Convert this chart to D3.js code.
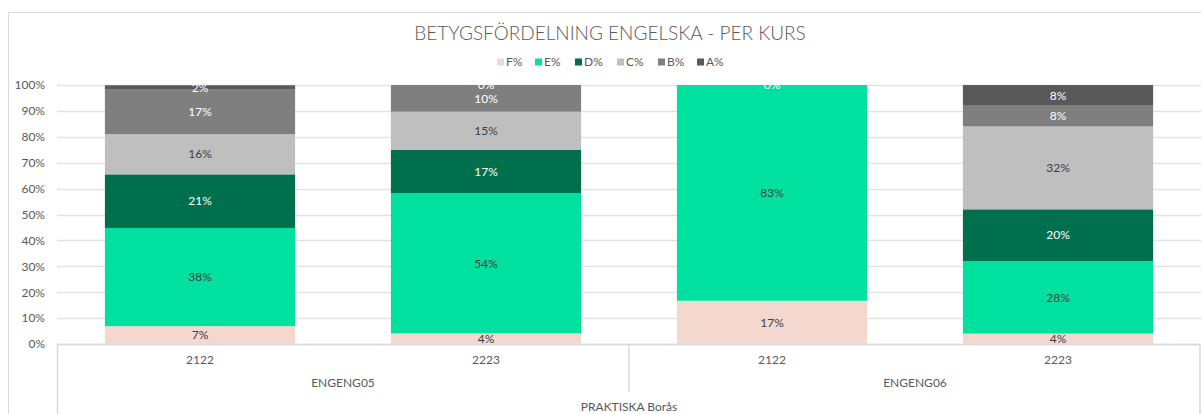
<!DOCTYPE html>
<html>
<head>
<meta charset="utf-8">
<script src="https://cdn.jsdelivr.net/npm/d3@7"></script>
<style>
  body { margin: 0; background: #fff; }
  text { font-family: Lato, "Open Sans", sans-serif; fill: #595959; }
</style>
</head>
<body>
<div class="d3-container"></div>
<script>
const w = 1201
const h = 414

// data
const courses = ['ENGENG05', 'ENGENG05', 'ENGENG06', 'ENGENG06']
const years = ['2122', '2223', '2122', '2223']
const school = 'PRAKTISKA Borås'
const grades = ['F%', 'E%', 'D%', 'C%', 'B%', 'A%']
const fVals = [6.9, 4.1, 16.7, 4]
const eVals = [37.9, 54.1, 83.3, 28]
const dVals = [20.7, 16.7, null, 20]
const cVals = [15.5, 14.8, null, 32]
const bVals = [17.2, 10.3, null, 8]
const aVals = [1.7, 0, 0, 8]
const yTicks = [0, 10, 20, 30, 40, 50, 60, 70, 80, 90, 100]

const colors = ['#f4d8d0', '#00e09e', '#00704c', '#bfbfbf', '#7f7f7f', '#595959']
const labelColors = ['#404040', '#404040', '#ffffff', '#404040', '#ffffff', '#ffffff']

const series = [fVals, eVals, dVals, cVals, bVals, aVals]
const rows = years.map((y, i) => {
    const r = { key: i }
    grades.forEach((g, j) => { r[g] = series[j][i] })
    return r
})

const m = { left: 57, right: 0, top: 85, bottom: 70 }

const svg = d3.select('.d3-container')
    .append('svg')
    .attr('width', w)
    .attr('height', h)

// chart border
svg.append('rect')
    .attr('x', 8.5).attr('y', 12.5)
    .attr('width', w + 20).attr('height', h + 20)
    .attr('fill', 'none')
    .attr('stroke', '#d9d9d9')

const x = d3.scaleBand()
    .domain(d3.range(years.length))
    .range([m.left, w - m.right])
    .paddingInner(0.335)
    .paddingOuter(0.1675)

const y = d3.scaleLinear()
    .domain([0, 100])
    .range([h - m.bottom, m.top])

// gridlines
svg.append('g')
    .selectAll('line')
    .data(yTicks)
    .enter()
    .append('line')
    .attr('x1', m.left)
    .attr('x2', w)
    .attr('y1', d => Math.round(y(d)) + 0.5)
    .attr('y2', d => Math.round(y(d)) + 0.5)
    .attr('stroke', '#e3e3e3')
    .attr('stroke-width', 1.5)

const yAxis = d3.axisLeft(y)
    .tickValues(yTicks)
    .tickFormat(d => d + '%')
    .tickSize(0)
    .tickPadding(12)

svg.append('g')
    .attr('transform', `translate(${m.left}, 0)`)
    .call(yAxis)
    .call(g => g.select('.domain').remove())
    .selectAll('text')
    .style('font-size', '12px')
    .style('font-family', 'Lato, sans-serif')
    .attr('fill', '#595959')

const stack = d3.stack().keys(grades).value((d, k) => d[k] || 0)
const stacked = stack(rows)

const layers = svg.append('g')
    .selectAll('g')
    .data(stacked)
    .enter()
    .append('g')
    .attr('fill', (d, i) => colors[i])

layers.selectAll('rect')
    .data(d => d)
    .enter()
    .append('rect')
    .attr('x', (d, i) => x(i))
    .attr('width', x.bandwidth())
    .attr('y', d => y(d[1]))
    .attr('height', d => y(d[0]) - y(d[1]))

// data labels
const labels = svg.append('g')
stacked.forEach((layer, j) => {
    layer.forEach((d, i) => {
        const v = series[j][i]
        if (v === null) return
        labels.append('text')
            .attr('x', x(i) + x.bandwidth() / 2)
            .attr('y', y((d[0] + d[1]) / 2))
            .attr('dy', '0.35em')
            .attr('text-anchor', 'middle')
            .style('font-size', '12px')
            .style('fill', labelColors[j])
            .text(Math.round(v) + '%')
    })
})

// multi-level category axis
const base = y(0)
const axisG = svg.append('g').attr('stroke', '#d9d9d9').attr('stroke-width', 1.5)
axisG.append('line').attr('x1', m.left).attr('x2', w).attr('y1', base + 0.5).attr('y2', base + 0.5)
axisG.append('line').attr('x1', m.left + 0.5).attr('x2', m.left + 0.5).attr('y1', base).attr('y2', h)
axisG.append('line').attr('x1', w - 1).attr('x2', w - 1).attr('y1', base).attr('y2', h)
const mid = (x(1) + x.bandwidth() + x(2)) / 2
axisG.append('line').attr('x1', mid).attr('x2', mid).attr('y1', base).attr('y2', base + 48)

svg.append('g')
    .selectAll('text')
    .data(years)
    .enter()
    .append('text')
    .attr('x', (d, i) => x(i) + x.bandwidth() / 2)
    .attr('y', base + 20)
    .attr('text-anchor', 'middle')
    .style('font-size', '12px')
    .text(d => d)

const groups = Array.from(new Set(courses))
svg.append('g')
    .selectAll('text')
    .data(groups)
    .enter()
    .append('text')
    .attr('x', g => {
        const idx = courses.map((c, i) => c === g ? i : -1).filter(i => i >= 0)
        const lo = idx[0] === 0 ? m.left : mid
        const hi = idx[idx.length - 1] === courses.length - 1 ? w : mid
        return (lo + hi) / 2
    })
    .attr('y', base + 43)
    .attr('text-anchor', 'middle')
    .style('font-size', '12px')
    .text(d => d)

svg.append('text')
    .attr('x', (m.left + w) / 2)
    .attr('y', base + 67)
    .attr('text-anchor', 'middle')
    .style('font-size', '12px')
    .text(school)

// title
svg.append('text')
    .attr('x', 610)
    .attr('y', 40)
    .attr('text-anchor', 'middle')
    .style('font-size', '19px')
    .style('font-weight', 300)
    .text('BETYGSFÖRDELNING ENGELSKA - PER KURS')

// legend
const legendX = [497, 535, 575, 617, 658, 697]
const legend = svg.append('g')
    .selectAll('g')
    .data(grades)
    .enter()
    .append('g')
    .attr('transform', (d, i) => `translate(${legendX[i]}, 62)`)

legend.append('rect')
    .attr('x', 0).attr('y', -3.5)
    .attr('width', 7).attr('height', 7)
    .attr('fill', (d, i) => colors[i])

legend.append('text')
    .attr('x', 9)
    .attr('dy', '0.35em')
    .style('font-size', '12px')
    .text(d => d)
</script>
</body>
</html>
